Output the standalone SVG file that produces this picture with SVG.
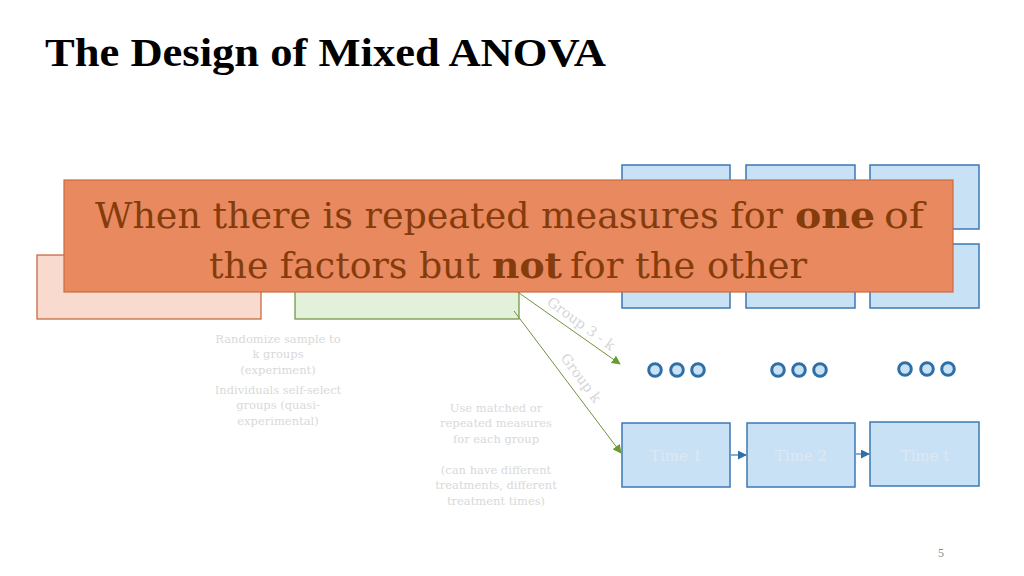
<svg xmlns="http://www.w3.org/2000/svg" width="1024" height="576" viewBox="0 0 1024 576">
<defs>
<style>
.title{font-family:"Liberation Serif",serif;font-weight:bold;font-size:41px;fill:#000}
.call{font-family:"DejaVu Serif",serif;font-size:35px;fill:#843C0C}
.b{font-weight:bold}
.note{font-family:"DejaVu Serif",serif;font-size:11.5px;fill:#D9D9D9;text-anchor:middle}
.glab{font-family:"DejaVu Serif",serif;font-size:14px;fill:#D6D6D6}
.time{font-family:"DejaVu Serif",serif;font-size:15px;fill:#DDE8F3;text-anchor:middle}
.blue{fill:#C9E1F5;stroke:#3C78B4;stroke-width:1.5}
.dot{fill:#C9E1F5;stroke:#2E6FA8;stroke-width:3}
.garrow{stroke:#70933C;stroke-width:1;fill:none}
.barrow{stroke:#3C78B4;stroke-width:1.2;fill:none}
</style>
<marker id="ga" viewBox="0 0 10 10" refX="9" refY="5" markerWidth="9" markerHeight="9" markerUnits="userSpaceOnUse" orient="auto"><path d="M0,0L10,5L0,10z" fill="#6A9A32"/></marker>
<marker id="ba" viewBox="0 0 10 10" refX="9" refY="5" markerWidth="9" markerHeight="9" markerUnits="userSpaceOnUse" orient="auto"><path d="M0,0L10,5L0,10z" fill="#2E6FA8"/></marker>
</defs>
<rect width="1024" height="576" fill="#fff"/>
<text class="title" x="45" y="66" textLength="561" lengthAdjust="spacingAndGlyphs">The Design of Mixed ANOVA</text>

<g id="between-box"><rect x="37" y="255" width="224" height="64" fill="#F8DBCE" stroke="#C0603A" stroke-width="1.2"/></g>
<g id="group-box"><rect x="295" y="250" width="224" height="69" fill="#E3F1DA" stroke="#6A8F40" stroke-width="1.2"/></g>

<g id="top-row">
<rect class="blue" x="622" y="165" width="108" height="64"/>
<rect class="blue" x="746" y="165" width="109" height="64"/>
<rect class="blue" x="870" y="165" width="109" height="64"/>
<rect class="blue" x="622" y="244" width="108" height="64"/>
<rect class="blue" x="746" y="244" width="109" height="64"/>
<rect class="blue" x="870" y="244" width="109" height="64"/>
</g>

<g id="dots">
<circle class="dot" cx="655" cy="370" r="6.3"/><circle class="dot" cx="677" cy="370" r="6.3"/><circle class="dot" cx="698" cy="370" r="6.3"/>
<circle class="dot" cx="778" cy="370" r="6.3"/><circle class="dot" cx="799" cy="370" r="6.3"/><circle class="dot" cx="820" cy="370" r="6.3"/>
<circle class="dot" cx="905" cy="369" r="6.3"/><circle class="dot" cx="927" cy="369" r="6.3"/><circle class="dot" cx="948" cy="369" r="6.3"/>
</g>

<g id="time1"><rect class="blue" x="622" y="423" width="108" height="64"/><text class="time" x="676" y="461">Time 1</text></g>
<g id="time2"><rect class="blue" x="747" y="423" width="108" height="64"/><text class="time" x="801" y="461">Time 2</text></g>
<g id="timet"><rect class="blue" x="870" y="422" width="109" height="64"/><text class="time" x="925" y="461">Time t</text></g>

<g id="connectors">
<line class="garrow" x1="512" y1="288" x2="620" y2="364" marker-end="url(#ga)"/>
<line class="garrow" x1="514" y1="311" x2="621" y2="453" marker-end="url(#ga)"/>
<line class="barrow" x1="731" y1="455" x2="746" y2="455" marker-end="url(#ba)"/>
<line class="barrow" x1="856" y1="454" x2="869" y2="454" marker-end="url(#ba)"/>
<text class="glab" transform="translate(546,304) rotate(36)">Group 3 - k</text>
<text class="glab" transform="translate(560,358) rotate(53)">Group k</text>
</g>

<g id="notes">
<text class="note" x="278" y="343">Randomize sample to</text>
<text class="note" x="278" y="358">k groups</text>
<text class="note" x="278" y="374">(experiment)</text>
<text class="note" x="278" y="394">Individuals self-select</text>
<text class="note" x="278" y="409">groups (quasi-</text>
<text class="note" x="278" y="425">experimental)</text>
<text class="note" x="496" y="412">Use matched or</text>
<text class="note" x="496" y="427">repeated measures</text>
<text class="note" x="496" y="443">for each group</text>
<text class="note" x="496" y="474">(can have different</text>
<text class="note" x="496" y="489">treatments, different</text>
<text class="note" x="496" y="505">treatment times)</text>
</g>

<g id="callout">
<rect x="64" y="180" width="889" height="112" fill="#E8895F" stroke="#CC6A42" stroke-width="1.2"/>
<text class="call" x="95" y="228" textLength="688" lengthAdjust="spacingAndGlyphs">When there is repeated measures for</text>
<text class="call b" x="795" y="228" textLength="80" lengthAdjust="spacingAndGlyphs">one</text>
<text class="call" x="884" y="228" textLength="40" lengthAdjust="spacingAndGlyphs">of</text>
<text class="call" x="209" y="278" textLength="271" lengthAdjust="spacingAndGlyphs">the factors but</text>
<text class="call b" x="492" y="278" textLength="70" lengthAdjust="spacingAndGlyphs">not</text>
<text class="call" x="570" y="278" textLength="237" lengthAdjust="spacingAndGlyphs">for the other</text>
</g>

<text x="941" y="557" font-family="Liberation Serif,serif" font-size="12" fill="#8C8C8C" text-anchor="middle">5</text>
</svg>
